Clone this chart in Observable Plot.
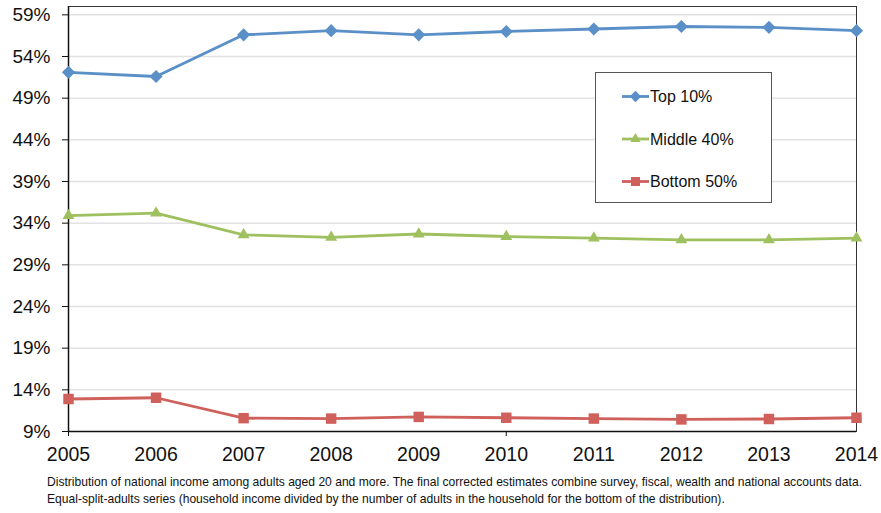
<!DOCTYPE html>
<html>
<head>
<meta charset="utf-8">
<script src="https://cdn.jsdelivr.net/npm/d3@7"></script>
<script src="https://cdn.jsdelivr.net/npm/@observablehq/plot@0.6"></script>
<style>
  html, body { margin: 0; padding: 0; background: #fff; }
  #wrap { position: relative; width: 881px; height: 513px; font-family: "Liberation Sans", Arial, sans-serif; overflow: hidden; }
  #legend { position: absolute; left: 595px; top: 72px; }
  #caption { position: absolute; left: 47px; top: 473px; font-family: "Liberation Sans", Arial, sans-serif; font-size: 13px; line-height: 17px; color: #111; white-space: nowrap; }
  #caption div { display: inline-block; transform-origin: 0 0; }
</style>
</head>
<body>
<div id="wrap">
  <div id="chart"></div>
  <div id="legend"></div>
  <div id="caption"></div>
</div>
<script>
const years = [2005, 2006, 2007, 2008, 2009, 2010, 2011, 2012, 2013, 2014];
const top10 = [52.1, 51.6, 56.6, 57.1, 56.6, 57.0, 57.3, 57.6, 57.5, 57.1];
const middle40 = [34.9, 35.2, 32.6, 32.3, 32.7, 32.4, 32.2, 32.0, 32.0, 32.2];
const bottom50 = [12.9, 13.05, 10.6, 10.55, 10.75, 10.65, 10.55, 10.45, 10.5, 10.65];
const seriesNames = ["Top 10%", "Middle 40%", "Bottom 50%"];
const seriesColors = ["#5a8fc8", "#9fc05e", "#cf605b"];
const seriesSymbols = ["diamond2", "triangle", "square"];
const seriesR = [5.9, 4.4, 5.9];
const yTicks = [9, 14, 19, 24, 29, 34, 39, 44, 49, 54, 59];
const xMajorTicks = [2005, 2010];
const captionLines = [
  "Distribution of national income among adults aged 20 and more. The final corrected estimates combine survey, fiscal, wealth and national accounts data.",
  "Equal-split-adults series (household income divided by the number of adults in the household for the bottom of the distribution)."
];

const allSeries = [top10, middle40, bottom50];
const data = [];
allSeries.forEach((vals, i) => vals.forEach((v, j) => data.push({year: years[j], value: v, series: seriesNames[i]})));

const marks = [
  Plot.ruleY(yTicks.slice(1), {stroke: "#e2e2e2", strokeWidth: 1.5}),
  Plot.frame({stroke: "#333", strokeWidth: 1}),
  Plot.ruleX([years[0]], {stroke: "#111", strokeWidth: 1.5}),
  Plot.ruleY([yTicks[0]], {stroke: "#111", strokeWidth: 1.5}),
  Plot.axisY({ticks: yTicks, tickFormat: d => d + "%", tickSize: 6, tickPadding: 12, fontSize: 19, stroke: "#111", fill: "#111", label: null}),
  Plot.axisX({ticks: years, tickFormat: d => String(d), tickSize: 0, tickPadding: 16, fontSize: 19.5, fill: "#111", label: null}),
  Plot.axisX({ticks: xMajorTicks, tickFormat: () => "", tickSize: 5, stroke: "#111", label: null})
];
seriesNames.forEach((name, i) => {
  const d = data.filter(r => r.series === name);
  marks.push(Plot.line(d, {x: "year", y: "value", stroke: seriesColors[i], strokeWidth: 2.8}));
  marks.push(Plot.dot(d, {x: "year", y: "value", symbol: () => seriesSymbols[i], fill: seriesColors[i], r: seriesR[i], stroke: "none"}));
});

const chart = Plot.plot({
  width: 881,
  height: 468,
  marginLeft: 68,
  marginRight: 25,
  marginTop: 6,
  marginBottom: 37,
  style: {fontFamily: "'Liberation Sans', Arial, sans-serif", background: "#fff", color: "#111"},
  x: {domain: [2005, 2014], axis: null},
  y: {domain: [9, 60], axis: null},
  symbol: {type: "identity"},
  marks
});
document.getElementById("chart").appendChild(chart);

// Legend
const lw = 176, lh = 130;
const lsvg = d3.create("svg").attr("width", lw + 1).attr("height", lh + 1);
lsvg.append("rect").attr("x", 0.5).attr("y", 0.5).attr("width", lw).attr("height", lh)
  .attr("fill", "#fff").attr("stroke", "#555").attr("stroke-width", 1);
const symMap = {diamond2: d3.symbolDiamond2, triangle: d3.symbolTriangle, square: d3.symbolSquare};
seriesNames.forEach((name, i) => {
  const cy = 24.5 + i * 42.5;
  const g = lsvg.append("g");
  g.append("line").attr("x1", 27).attr("x2", 54).attr("y1", cy).attr("y2", cy)
    .attr("stroke", seriesColors[i]).attr("stroke-width", 2.8);
  g.append("path").attr("transform", `translate(40.5,${cy})`)
    .attr("d", d3.symbol(symMap[seriesSymbols[i]], Math.PI * seriesR[i] * seriesR[i] * 0.75)())
    .attr("fill", seriesColors[i]);
  g.append("text").attr("x", 55).attr("y", cy).attr("dy", "0.36em")
    .attr("font-size", 16).attr("fill", "#111")
    .attr("font-family", "'Liberation Sans', Arial, sans-serif").text(name);
});
document.getElementById("legend").appendChild(lsvg.node());

// Caption (condensed to match the narrow font of the reference)
const cap = document.getElementById("caption");
const capDivs = captionLines.map(t => {
  const row = document.createElement("div");
  row.style.display = "block";
  const span = document.createElement("span");
  span.style.display = "inline-block";
  span.style.transformOrigin = "0 0";
  span.textContent = t;
  row.appendChild(span);
  cap.appendChild(row);
  return span;
});
const w0 = capDivs[0].getBoundingClientRect().width;
const sx = 815 / w0;
capDivs.forEach(s => { s.style.transform = `scaleX(${sx})`; });
</script>
</body>
</html>
